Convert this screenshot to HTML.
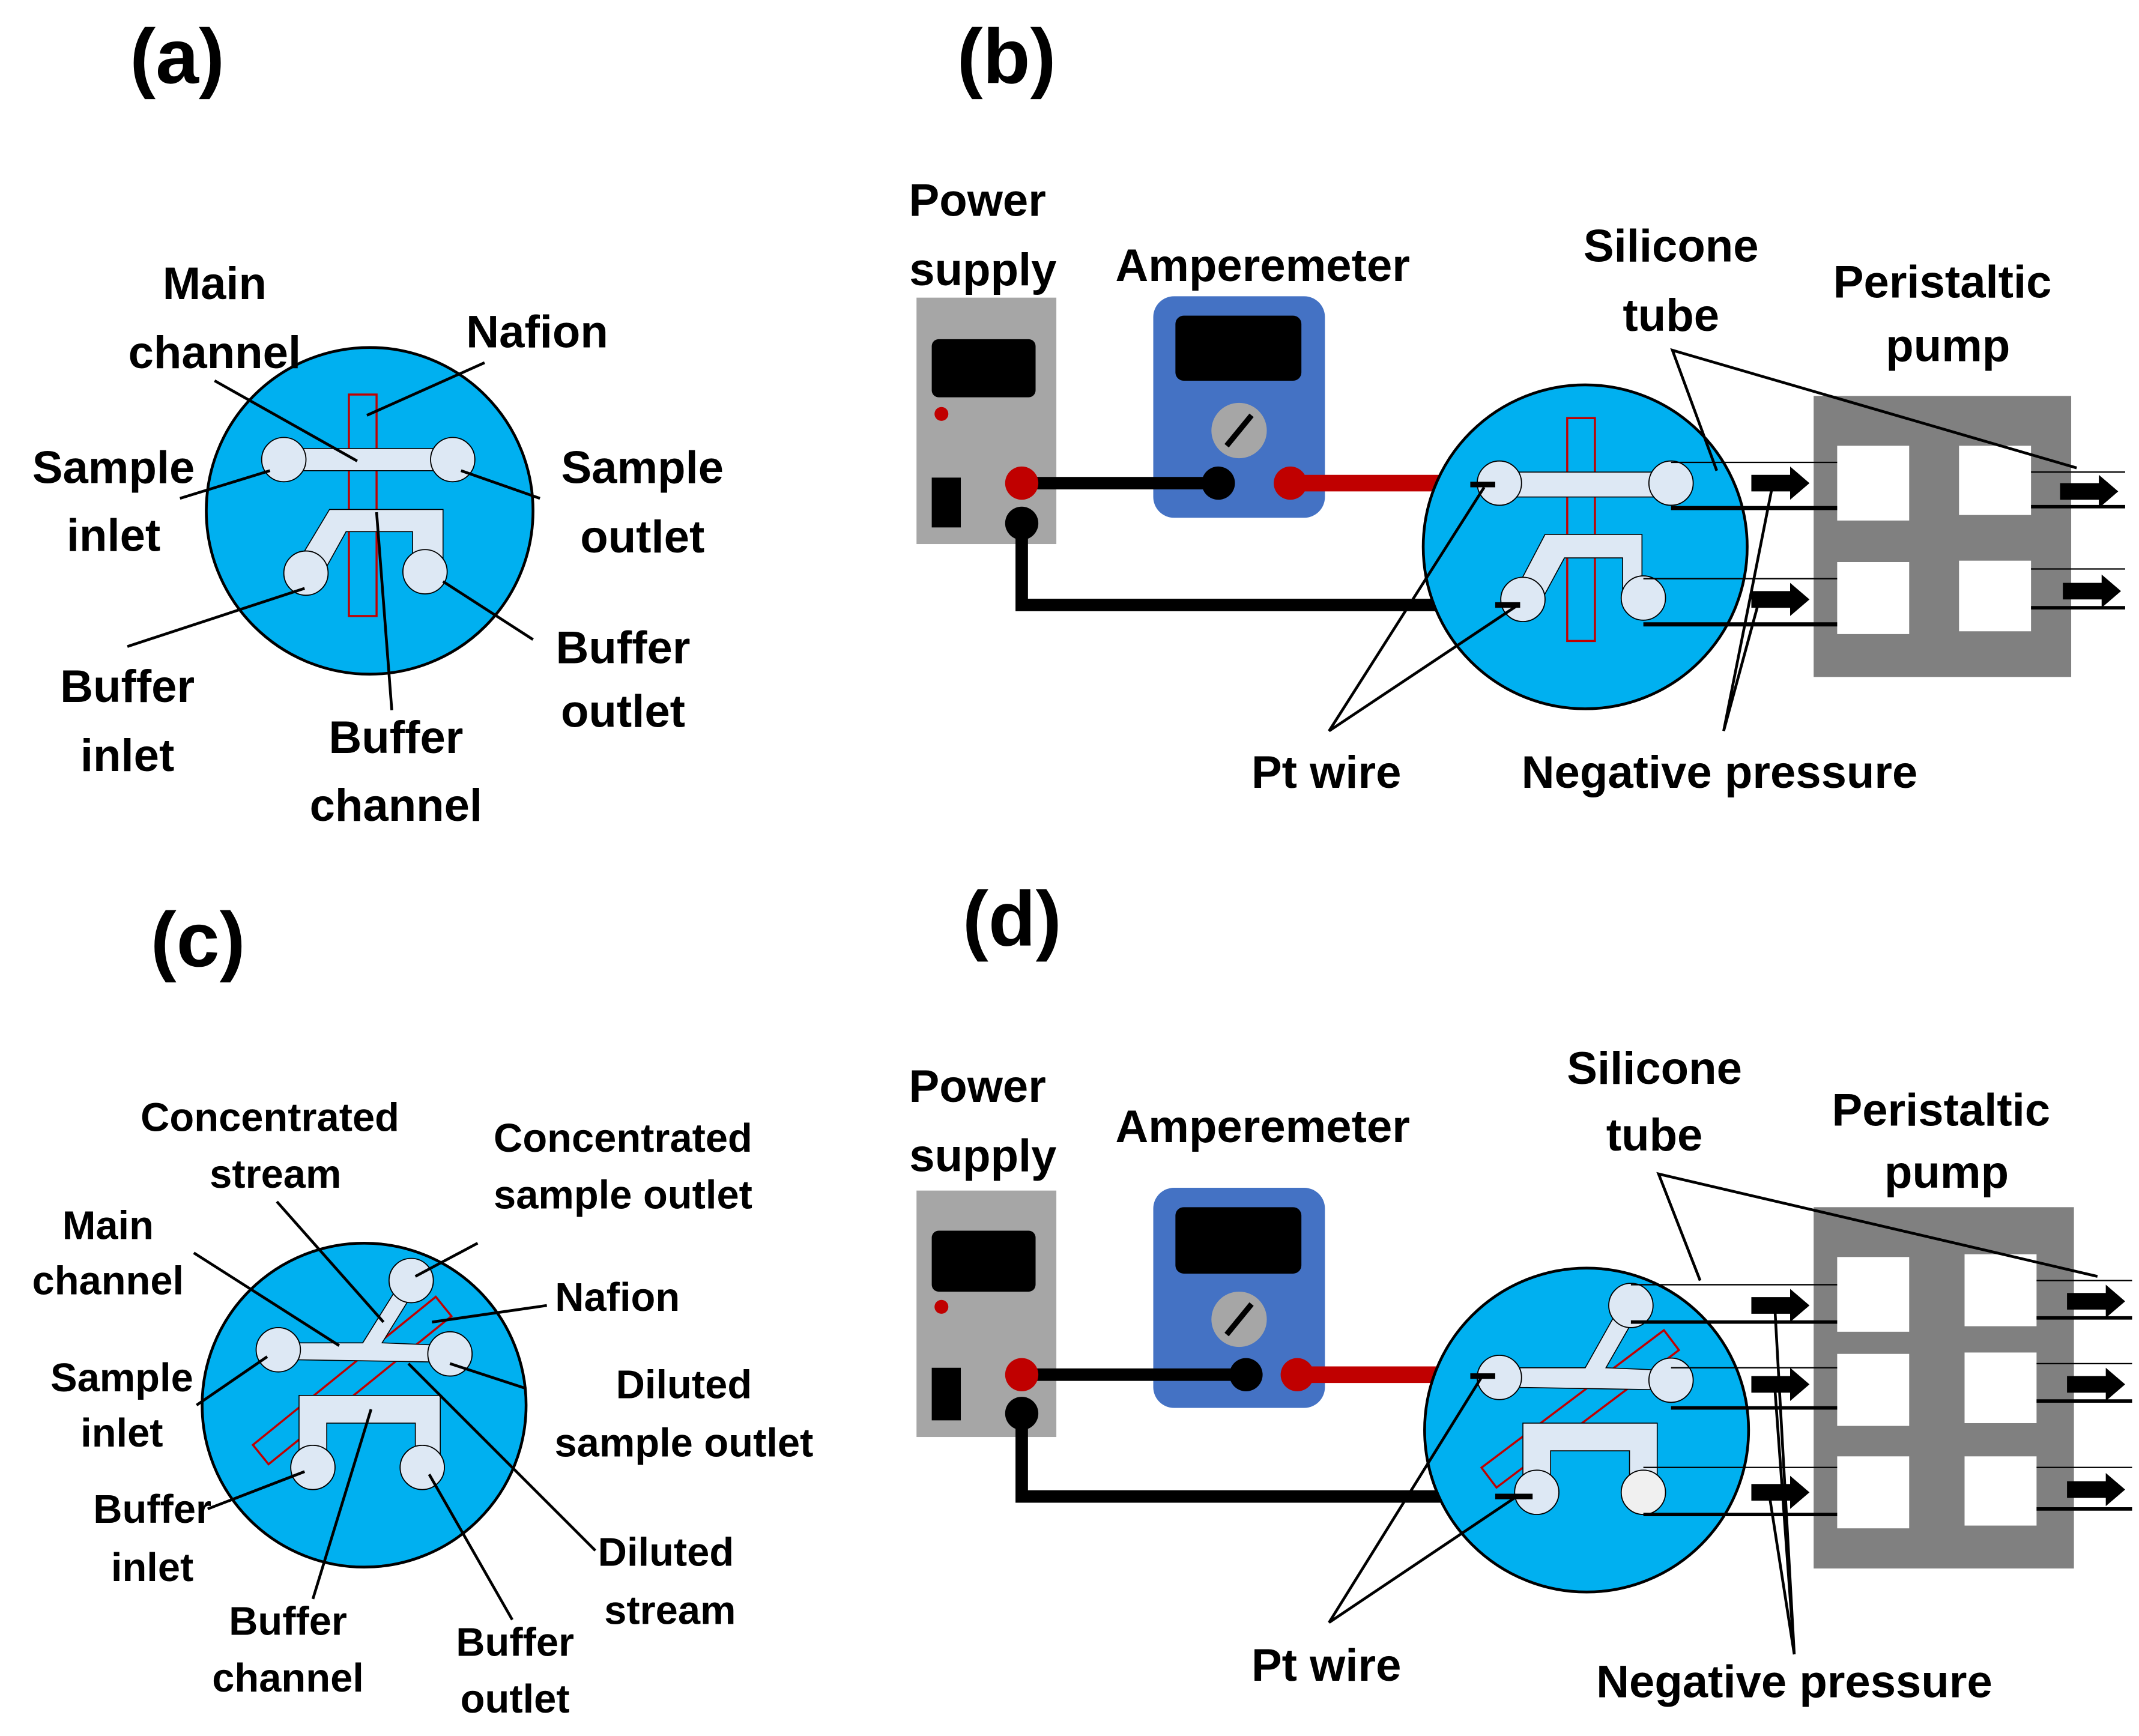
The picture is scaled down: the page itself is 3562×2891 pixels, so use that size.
<!DOCTYPE html>
<html><head><meta charset="utf-8"><style>
html,body{margin:0;padding:0;background:#fff}
svg{display:block}
text{font-family:"Liberation Sans",sans-serif;font-weight:bold;fill:#000}
</style></head><body>
<svg width="3562" height="2891" viewBox="0 0 1545 1254" preserveAspectRatio="none" xmlns="http://www.w3.org/2000/svg">
<defs>
<g id="arr"><path d="M0,-6 L28,-6 L28,-12 L42,0 L28,12 L28,6 L0,6 Z" fill="#000"/></g>
</defs>
<g font-size="56" text-anchor="middle">
<text x="128" y="60">(a)</text><text x="727" y="60">(b)</text>
<text x="143" y="698">(c)</text><text x="731" y="683">(d)</text>
</g>

<!-- (a) -->
<circle cx="267" cy="369" r="118" fill="#00b0f0" stroke="#000" stroke-width="2"/>
<rect x="252" y="285" width="20" height="160" fill="none" stroke="#c00000" stroke-width="1.5"/>
<rect x="205" y="324" width="122" height="16" fill="#dde8f4" stroke="#000" stroke-width="0.7"/>
<path d="M214,408 L238,368 L320,368 L320,410 L298,410 L298,384 L250,384 L230,420 Z" fill="#dde8f4" stroke="#000" stroke-width="0.7"/>
<g fill="#dde8f4" stroke="#000" stroke-width="0.8">
<circle cx="205" cy="332" r="16"/><circle cx="327" cy="332" r="16"/>
<circle cx="221" cy="414" r="16"/><circle cx="307" cy="413" r="16"/></g>
<g stroke="#000" stroke-width="2" fill="none">
<line x1="155" y1="275" x2="258" y2="333"/><line x1="350" y1="262" x2="265" y2="300"/>
<line x1="130" y1="360" x2="195" y2="340"/><line x1="390" y1="360" x2="333" y2="340"/>
<line x1="385" y1="462" x2="320" y2="420"/><line x1="92" y1="467" x2="220" y2="425"/>
<line x1="283" y1="513" x2="272" y2="370"/></g>
<g font-size="33" text-anchor="middle">
<text x="155" y="216">Main</text><text x="155" y="266">channel</text>
<text x="388" y="251">Nafion</text>
<text x="82" y="349">Sample</text><text x="82" y="398">inlet</text>
<text x="464" y="349">Sample</text><text x="464" y="399">outlet</text>
<text x="450" y="479">Buffer</text><text x="450" y="525">outlet</text>
<text x="92" y="507">Buffer</text><text x="92" y="557">inlet</text>
<text x="286" y="544">Buffer</text><text x="286" y="593">channel</text>
</g>

<!-- (b) -->
<rect x="662" y="215" width="101" height="178" fill="#a6a6a6"/>
<rect x="673" y="245" width="75" height="42" rx="5" fill="#000"/>
<circle cx="680" cy="299" r="5" fill="#c00000"/>
<rect x="673" y="345" width="21" height="36" fill="#000"/>
<rect x="833" y="214" width="124" height="160" rx="15" fill="#4472c4"/>
<rect x="849" y="228" width="91" height="47" rx="6" fill="#000"/>
<circle cx="895" cy="311" r="20" fill="#a6a6a6"/><line x1="886" y1="322" x2="904" y2="300" stroke="#000" stroke-width="4"/>
<line x1="738" y1="349" x2="880" y2="349" stroke="#000" stroke-width="9"/>
<line x1="932" y1="349" x2="1062" y2="349" stroke="#c00000" stroke-width="12"/>
<polyline points="738,378 738,437 1090,437" fill="none" stroke="#000" stroke-width="9"/>
<circle cx="738" cy="349" r="12" fill="#c00000"/><circle cx="738" cy="378" r="12" fill="#000"/>
<circle cx="880" cy="349" r="12" fill="#000"/><circle cx="932" cy="349" r="12" fill="#c00000"/>
<circle cx="1145" cy="395" r="117" fill="#00b0f0" stroke="#000" stroke-width="2"/>
<rect x="1132" y="302" width="20" height="161" fill="none" stroke="#c00000" stroke-width="1.5"/>
<rect x="1083" y="341" width="124" height="18" fill="#dde8f4" stroke="#000" stroke-width="0.7"/>
<path d="M1094,428 L1116,386 L1186,386 L1186,430 L1172,430 L1172,403 L1130,403 L1110,440 Z" fill="#dde8f4" stroke="#000" stroke-width="0.7"/>
<g fill="#dde8f4" stroke="#000" stroke-width="0.8">
<ellipse cx="1083" cy="349" rx="16" ry="16"/><ellipse cx="1207" cy="349" rx="16" ry="16"/>
<ellipse cx="1100" cy="433" rx="16" ry="16"/><ellipse cx="1187" cy="432" rx="16" ry="16"/></g>
<line x1="1062" y1="350" x2="1080" y2="350" stroke="#000" stroke-width="4"/>
<line x1="1080" y1="437" x2="1098" y2="437" stroke="#000" stroke-width="4"/>
<rect x="1310" y="286" width="186" height="203" fill="#808080"/>
<g fill="#fff"><rect x="1327" y="322" width="52" height="54"/><rect x="1415" y="322" width="52" height="50"/>
<rect x="1327" y="406" width="52" height="52"/><rect x="1415" y="405" width="52" height="51"/></g>
<g stroke="#000">
<line x1="1207" y1="334" x2="1327" y2="334" stroke-width="1"/><line x1="1207" y1="367" x2="1327" y2="367" stroke-width="3"/>
<line x1="1187" y1="418" x2="1327" y2="418" stroke-width="1"/><line x1="1187" y1="451" x2="1327" y2="451" stroke-width="3"/>
<line x1="1467" y1="341" x2="1535" y2="341" stroke-width="1"/><line x1="1467" y1="366" x2="1535" y2="366" stroke-width="2.5"/>
<line x1="1467" y1="411" x2="1535" y2="411" stroke-width="1"/><line x1="1467" y1="439" x2="1535" y2="439" stroke-width="2.5"/>
</g>
<use href="#arr" x="1265" y="349"/><use href="#arr" x="1265" y="433"/>
<use href="#arr" x="1488" y="355"/><use href="#arr" x="1490" y="427"/>
<g stroke="#000" stroke-width="2" fill="none">
<polyline points="1240,340 1208,253 1500,338"/>
<polyline points="1072,352 960,528 1095,438"/>
<polyline points="1280,352 1245,528 1270,436"/></g>
<g font-size="33" text-anchor="middle">
<text x="706" y="156">Power</text><text x="710" y="206">supply</text>
<text x="912" y="203">Amperemeter</text>
<text x="1207" y="189">Silicone</text><text x="1207" y="239">tube</text>
<text x="1403" y="215">Peristaltic</text><text x="1407" y="261">pump</text>
<text x="958" y="569">Pt wire</text><text x="1242" y="569">Negative pressure</text>
</g>

<!-- (c) -->
<circle cx="263" cy="1015" r="117" fill="#00b0f0" stroke="#000" stroke-width="2"/>
<g transform="rotate(-39 255 998)"><rect x="170" y="988" width="170" height="18" fill="none" stroke="#c00000" stroke-width="1.5"/></g>
<path d="M201,970 L262,970 L292,922 L302,928 L276,970 L325,972 L325,984 L201,982 Z" fill="#dde8f4" stroke="#000" stroke-width="0.7"/>
<path d="M216,1060 L216,1008 L318,1008 L318,1060 L300,1060 L300,1028 L236,1028 L236,1060 Z" fill="#dde8f4" stroke="#000" stroke-width="0.7"/>
<g fill="#dde8f4" stroke="#000" stroke-width="0.8">
<circle cx="201" cy="975" r="16"/><circle cx="325" cy="978" r="16"/><circle cx="297" cy="925" r="16"/>
<circle cx="226" cy="1060" r="16"/><circle cx="305" cy="1060" r="16"/></g>
<g stroke="#000" stroke-width="2" fill="none">
<line x1="200" y1="868" x2="277" y2="955"/><line x1="345" y1="898" x2="300" y2="922"/>
<line x1="140" y1="905" x2="245" y2="972"/><line x1="395" y1="943" x2="312" y2="955"/>
<line x1="142" y1="1015" x2="193" y2="980"/><line x1="380" y1="1003" x2="325" y2="985"/>
<line x1="150" y1="1090" x2="220" y2="1063"/><line x1="430" y1="1120" x2="295" y2="985"/>
<line x1="226" y1="1155" x2="268" y2="1018"/><line x1="370" y1="1170" x2="310" y2="1065"/></g>
<g font-size="29" text-anchor="middle">
<text x="195" y="817">Concentrated</text><text x="199" y="858">stream</text>
<text x="450" y="832">Concentrated</text><text x="450" y="873">sample outlet</text>
<text x="78" y="895">Main</text><text x="78" y="935">channel</text>
<text x="446" y="947">Nafion</text>
<text x="88" y="1005">Sample</text><text x="88" y="1045">inlet</text>
<text x="494" y="1010">Diluted</text><text x="494" y="1052">sample outlet</text>
<text x="110" y="1100">Buffer</text><text x="110" y="1142">inlet</text>
<text x="481" y="1131">Diluted</text><text x="484" y="1173">stream</text>
<text x="208" y="1181">Buffer</text><text x="208" y="1222">channel</text>
<text x="372" y="1196">Buffer</text><text x="372" y="1237">outlet</text>
</g>

<!-- (d) -->
<rect x="662" y="860" width="101" height="178" fill="#a6a6a6"/>
<rect x="673" y="889" width="75" height="44" rx="5" fill="#000"/>
<circle cx="680" cy="944" r="5" fill="#c00000"/>
<rect x="673" y="988" width="21" height="38" fill="#000"/>
<rect x="833" y="858" width="124" height="159" rx="15" fill="#4472c4"/>
<rect x="849" y="872" width="91" height="48" rx="6" fill="#000"/>
<circle cx="895" cy="953" r="20" fill="#a6a6a6"/><line x1="886" y1="964" x2="904" y2="942" stroke="#000" stroke-width="4"/>
<line x1="738" y1="993" x2="900" y2="993" stroke="#000" stroke-width="9"/>
<line x1="937" y1="993" x2="1062" y2="993" stroke="#c00000" stroke-width="12"/>
<polyline points="738,1021 738,1081 1100,1081" fill="none" stroke="#000" stroke-width="9"/>
<circle cx="738" cy="993" r="12" fill="#c00000"/><circle cx="738" cy="1021" r="12" fill="#000"/>
<circle cx="900" cy="993" r="12" fill="#000"/><circle cx="937" cy="993" r="12" fill="#c00000"/>
<circle cx="1146" cy="1033" r="117" fill="#00b0f0" stroke="#000" stroke-width="2"/>
<g transform="rotate(-37 1140 1020)"><rect x="1060" y="1010" width="165" height="18" fill="none" stroke="#c00000" stroke-width="1.5"/></g>
<path d="M1083,988 L1145,988 L1172,940 L1184,946 L1160,988 L1207,990 L1207,1004 L1083,1002 Z" fill="#dde8f4" stroke="#000" stroke-width="0.7"/>
<path d="M1100,1078 L1100,1028 L1197,1028 L1197,1078 L1177,1078 L1177,1048 L1120,1048 L1120,1078 Z" fill="#dde8f4" stroke="#000" stroke-width="0.7"/>
<g fill="#dde8f4" stroke="#000" stroke-width="0.8">
<circle cx="1083" cy="995" r="16"/><circle cx="1207" cy="997" r="16"/><circle cx="1178" cy="943" r="16"/>
<circle cx="1110" cy="1078" r="16"/><circle cx="1187" cy="1078" r="16" fill="#f0f0f0"/></g>
<line x1="1062" y1="994" x2="1080" y2="994" stroke="#000" stroke-width="4"/>
<line x1="1080" y1="1081" x2="1107" y2="1081" stroke="#000" stroke-width="4"/>
<rect x="1310" y="872" width="188" height="261" fill="#808080"/>
<g fill="#fff"><rect x="1327" y="908" width="52" height="54"/><rect x="1419" y="906" width="52" height="52"/>
<rect x="1327" y="978" width="52" height="52"/><rect x="1419" y="977" width="52" height="51"/>
<rect x="1327" y="1052" width="52" height="52"/><rect x="1419" y="1052" width="52" height="50"/></g>
<g stroke="#000">
<line x1="1178" y1="928" x2="1327" y2="928" stroke-width="1"/><line x1="1178" y1="955" x2="1327" y2="955" stroke-width="2.5"/>
<line x1="1207" y1="988" x2="1327" y2="988" stroke-width="1"/><line x1="1207" y1="1017" x2="1327" y2="1017" stroke-width="2.5"/>
<line x1="1187" y1="1060" x2="1327" y2="1060" stroke-width="1"/><line x1="1187" y1="1094" x2="1327" y2="1094" stroke-width="2.5"/>
<line x1="1471" y1="925" x2="1540" y2="925" stroke-width="1"/><line x1="1471" y1="952" x2="1540" y2="952" stroke-width="2.5"/>
<line x1="1471" y1="985" x2="1540" y2="985" stroke-width="1"/><line x1="1471" y1="1012" x2="1540" y2="1012" stroke-width="2.5"/>
<line x1="1471" y1="1060" x2="1540" y2="1060" stroke-width="1"/><line x1="1471" y1="1090" x2="1540" y2="1090" stroke-width="2.5"/>
</g>
<use href="#arr" x="1265" y="943"/><use href="#arr" x="1265" y="1000"/><use href="#arr" x="1265" y="1078"/>
<use href="#arr" x="1493" y="940"/><use href="#arr" x="1493" y="1000"/><use href="#arr" x="1493" y="1076"/>
<g stroke="#000" stroke-width="2" fill="none">
<polyline points="1228,925 1198,848 1515,922"/>
<polyline points="1070,995 960,1172 1097,1080"/>
<polyline points="1282,945 1296,1195 1282,1003"/><line x1="1296" y1="1195" x2="1278" y2="1080"/></g>
<g font-size="33" text-anchor="middle">
<text x="706" y="796">Power</text><text x="710" y="846">supply</text>
<text x="912" y="825">Amperemeter</text>
<text x="1195" y="783">Silicone</text><text x="1195" y="831">tube</text>
<text x="1402" y="813">Peristaltic</text><text x="1406" y="858">pump</text>
<text x="958" y="1214">Pt wire</text><text x="1296" y="1226">Negative pressure</text>
</g>
</svg>
</body></html>
